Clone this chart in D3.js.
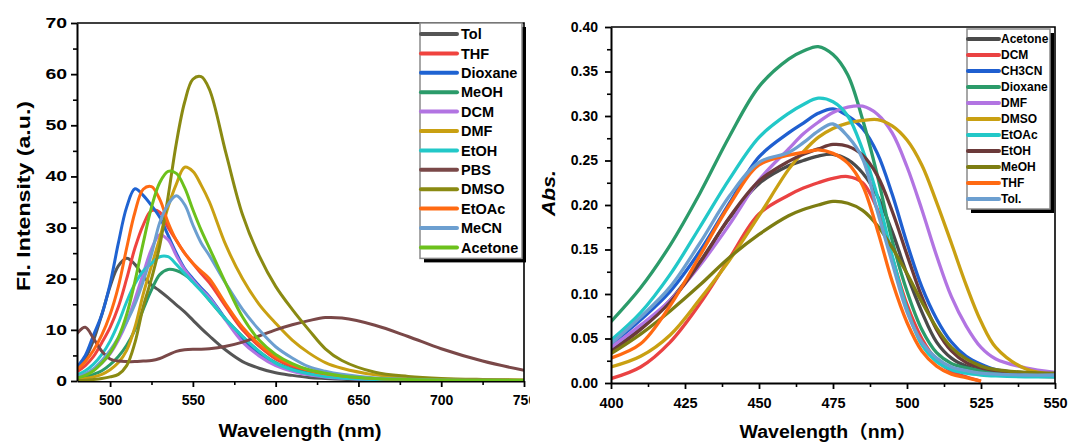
<!DOCTYPE html>
<html>
<head>
<meta charset="utf-8">
<script src="https://cdn.jsdelivr.net/npm/d3@7"></script>
<style>
  body { margin: 0; background: #fff; }
  svg { display: block; }
  text { font-family: Arial, "Liberation Sans", "Noto Sans CJK SC", sans-serif; font-weight: bold; fill: #000; }
</style>
</head>
<body>
<svg id="chart" width="1069" height="443"></svg>
<script>
// ---------- Fluorescence emission spectra (left panel) ----------
const flWavelength = [480,485,490,495,500,505,510,515,520,525,530,535,540,545,550,555,560,570,580,590,600,610,620,630,640,660,680,700,725,750];
const flTol     = [2.5,4.5,8,13,18.5,22.5,24,22.8,20.5,18.8,17.6,16.3,14.9,13.5,11.9,10.3,8.8,6.0,3.8,2.5,1.6,1.1,0.7,0.5,0.35,0.2,0.15,0.1,0.1,0.1];
const flTHF     = [1.8,3,4.8,7.5,10.5,14.5,20,26,30.5,33.3,33,30,27.5,25,23,21,19.2,14.5,10,6.8,4.3,2.8,1.8,1.2,0.8,0.4,0.25,0.15,0.1,0.1];
const flDioxane = [2.7,5,9,13,19,27,34,37.6,36.3,34.3,32,28.5,25,22,20,18.2,16.5,12,8,5.2,3.3,2.1,1.3,0.8,0.6,0.3,0.2,0.15,0.1,0.1];
const flMeOH    = [0.5,0.8,1.3,2,3.2,4.8,7,10,14,17.8,20.8,21.8,21.6,20.8,19.5,17.8,15.8,12,8.7,5.8,3.6,2.3,1.5,1,0.7,0.35,0.2,0.15,0.1,0.1];
const flDCM     = [0.8,1.3,2.2,3.5,5.3,8,11.5,16,21,25.8,28.6,27.6,24.5,21.8,19.7,17.9,16.3,11.8,7.6,4.9,3.0,1.9,1.2,0.8,0.55,0.3,0.2,0.1,0.1,0.1];
const flDMF     = [0.3,0.5,0.8,1.3,2.2,3.6,6,10.5,17,22.5,28,34,38.5,41.8,41,38.3,35,26.5,20,15,11.3,8,5.5,3.6,2.5,1.2,0.6,0.35,0.2,0.15];
const flEtOH    = [1.2,2,3.3,5.2,7.8,11.3,15.5,19,21.5,23,24.3,24.3,22.8,21,19.3,17.6,15.8,12,8.7,5.8,3.5,2.2,1.4,0.9,0.6,0.3,0.2,0.1,0.1,0.1];
const flPBS     = [9.3,10.5,8.3,5.8,4.3,3.9,3.8,3.8,3.9,4.0,4.4,5.1,5.8,6.1,6.2,6.2,6.3,6.8,7.6,8.8,10,11,11.8,12.4,12.3,10.9,8.7,6.3,3.9,2.1];
const flDMSO    = [0.1,0.15,0.3,0.5,0.8,1.3,3,7.5,14.5,20,26.5,36,46.5,54.5,59,59.5,57,44.5,32.5,24.5,18.5,14,10,6.3,4,1.7,0.9,0.5,0.3,0.2];
const flEtOAc   = [2.2,3.8,6,9,13,18.5,26,33,37.5,38,35.5,31,27.5,25,23,21.5,20,15,10.5,7.2,4.7,3.2,2.1,1.4,1,0.5,0.3,0.2,0.15,0.1];
const flMeCN    = [0.8,1.4,2.4,4,6,8.5,11.5,15,19.5,24.8,31,34.5,36.2,34.5,30.5,27,24.5,19,14,10,6.7,4.5,2.8,1.9,1.3,0.6,0.35,0.2,0.15,0.1];
const flAcetone = [0.6,1.1,2,3.5,5.5,8.5,13,19.5,27,34,38.8,41,40.6,37.8,33.5,29.5,26,19,12.5,8,5.2,3.4,2.2,1.5,1,0.5,0.3,0.2,0.15,0.1];

const flNames  = ["Tol","THF","Dioxane","MeOH","DCM","DMF","EtOH","PBS","DMSO","EtOAc","MeCN","Acetone"];
const flColors = ["#555555","#f0433e","#1f63d2","#2b9b6a","#b274e2","#c9a012","#22c8c8","#7a4848","#8a8a12","#ff6a12","#6c9fd0","#6cc11c"];
const flValues = [flTol,flTHF,flDioxane,flMeOH,flDCM,flDMF,flEtOH,flPBS,flDMSO,flEtOAc,flMeCN,flAcetone];
const flXTicks = [500,550,600,650,700,750];
const flYTicks = [0,10,20,30,40,50,60,70];

// ---------- UV-vis absorption spectra (right panel) ----------
const absWavelength = [400,410,420,430,440,450,460,465,470,475,480,485,490,495,500,505,510,515,520,525,530,540,550];
const absAcetone = [0.037,0.062,0.093,0.136,0.185,0.224,0.244,0.250,0.255,0.257,0.251,0.236,0.210,0.170,0.122,0.080,0.046,0.028,0.019,0.014,0.011,0.008,0.007];
const absDCM     = [0.005,0.018,0.046,0.089,0.140,0.190,0.211,0.219,0.225,0.230,0.232,0.225,0.195,0.141,0.088,0.050,0.026,0.013,0.007,0.002,null,null,null];
const absCH3CN   = [0.043,0.071,0.103,0.148,0.202,0.254,0.281,0.292,0.303,0.308,0.300,0.286,0.258,0.212,0.157,0.108,0.072,0.046,0.030,0.021,0.015,0.011,0.009];
const absDioxane = [0.069,0.107,0.155,0.213,0.277,0.333,0.364,0.373,0.378,0.369,0.346,0.296,0.233,0.160,0.103,0.060,0.034,0.022,0.017,0.014,0.013,0.011,0.010];
const absDMF     = [0.040,0.065,0.093,0.132,0.178,0.228,0.263,0.280,0.293,0.304,0.310,0.311,0.302,0.281,0.243,0.195,0.143,0.097,0.064,0.040,0.027,0.017,0.012];
const absDMSO    = [0.018,0.030,0.054,0.094,0.138,0.188,0.240,0.260,0.276,0.286,0.292,0.295,0.296,0.289,0.273,0.245,0.203,0.157,0.110,0.069,0.040,0.016,0.010];
const absEtOAc   = [0.048,0.079,0.122,0.175,0.229,0.276,0.303,0.313,0.320,0.316,0.300,0.262,0.210,0.143,0.083,0.043,0.024,0.015,0.011,0.009,0.008,0.007,0.007];
const absEtOH    = [0.035,0.060,0.091,0.135,0.186,0.227,0.249,0.257,0.263,0.268,0.266,0.256,0.233,0.193,0.144,0.097,0.060,0.036,0.023,0.017,0.014,0.011,0.010];
const absMeOH    = [0.033,0.055,0.081,0.110,0.141,0.167,0.188,0.195,0.200,0.204,0.202,0.194,0.177,0.152,0.123,0.091,0.062,0.040,0.027,0.019,0.015,0.012,0.011];
const absTHF     = [0.028,0.044,0.087,0.143,0.200,0.245,0.256,0.259,0.262,0.258,0.247,0.222,0.172,0.114,0.068,0.036,0.019,0.010,0.006,0.002,null,null,null];
const absTol     = [0.044,0.074,0.108,0.157,0.210,0.248,0.259,0.270,0.283,0.291,0.277,0.252,0.193,0.135,0.080,0.046,0.028,0.018,0.014,0.011,0.010,0.009,0.009];

const absNames  = ["Acetone","DCM","CH3CN","Dioxane","DMF","DMSO","EtOAc","EtOH","MeOH","THF","Tol."];
const absColors = ["#4a4a4a","#ea4242","#1f5fd0","#2b9b6a","#b274e2","#c9a012","#22c8c8","#6b3a3a","#7d7d12","#ff6a12","#6c9fd0"];
const absValues = [absAcetone,absDCM,absCH3CN,absDioxane,absDMF,absDMSO,absEtOAc,absEtOH,absMeOH,absTHF,absTol];
const absXTicks = [400,425,450,475,500,525,550];
const absYTicks = [0,0.05,0.10,0.15,0.20,0.25,0.30,0.35,0.40];

const svg = d3.select("#chart");
const defs = svg.append("defs");

function drawPanel(cfg) {
  const x = d3.scaleLinear().domain(cfg.xDomain).range([cfg.left, cfg.right]);
  const y = d3.scaleLinear().domain(cfg.yDomain).range([cfg.bottom, cfg.top]);
  const g = svg.append("g");

  defs.append("clipPath").attr("id", cfg.id + "-plot")
    .append("rect").attr("x", cfg.left).attr("y", cfg.top)
    .attr("width", cfg.right - cfg.left).attr("height", cfg.bottom - cfg.top);

  // spectra
  const line = d3.line()
    .defined(d => d[1] != null)
    .x(d => x(d[0])).y(d => y(d[1]))
    .curve(d3.curveCatmullRom.alpha(0.5));
  const curves = g.append("g").attr("clip-path", `url(#${cfg.id}-plot)`);
  cfg.values.forEach((vals, i) => {
    curves.append("path")
      .datum(cfg.xs.map((w, j) => [w, vals[j]]))
      .attr("d", line)
      .attr("fill", "none")
      .attr("stroke", cfg.colors[i])
      .attr("stroke-width", cfg.lineWidth)
      .attr("stroke-linejoin", "round");
  });

  // frame: top and right edges
  g.append("path")
    .attr("d", `M${cfg.left},${cfg.top}H${cfg.right}V${cfg.bottom}`)
    .attr("fill", "none").attr("stroke", "#000").attr("stroke-width", 1.6);

  // minor ticks
  const xMinor = g.append("g").attr("transform", `translate(0,${cfg.bottom})`)
    .call(d3.axisBottom(x).tickValues(cfg.xMinor).tickSize(4).tickFormat(""));
  const yMinor = g.append("g").attr("transform", `translate(${cfg.left},0)`)
    .call(d3.axisLeft(y).tickValues(cfg.yMinor).tickSize(4).tickFormat(""));
  [xMinor, yMinor].forEach(a => {
    a.select(".domain").remove();
    a.selectAll("line").attr("stroke-width", 1.6);
  });

  // major axes
  const xAxis = g.append("g").attr("transform", `translate(0,${cfg.bottom})`)
    .call(d3.axisBottom(x).tickValues(cfg.xTicks).tickSize(6).tickSizeOuter(0)
      .tickPadding(cfg.xPad).tickFormat(d3.format("d")));
  const yAxis = g.append("g").attr("transform", `translate(${cfg.left},0)`)
    .call(d3.axisLeft(y).tickValues(cfg.yTicks).tickSize(6).tickSizeOuter(0)
      .tickPadding(cfg.yPad).tickFormat(cfg.yFormat));
  [xAxis, yAxis].forEach(a => {
    a.select(".domain").attr("stroke-width", 2);
    a.selectAll("line").attr("stroke-width", 1.8);
    a.selectAll("text").attr("font-family", null).attr("fill", "#000");
  });
  xAxis.selectAll("text").attr("font-size", cfg.xFont);
  yAxis.selectAll("text").attr("font-size", cfg.yFont);
  if (cfg.yDigitWidth) {
    yAxis.selectAll("text").each(function () {
      const t = d3.select(this);
      t.attr("textLength", t.text().length * cfg.yDigitWidth).attr("lengthAdjust", "spacingAndGlyphs");
    });
  }
  if (cfg.clipRight) {
    defs.append("clipPath").attr("id", cfg.id + "-xlab")
      .append("rect").attr("x", 0).attr("y", 0).attr("width", cfg.clipRight).attr("height", 443);
    xAxis.attr("clip-path", `url(#${cfg.id}-xlab)`);
  }

  // legend
  const L = cfg.legend;
  const nL = cfg.names.length;
  const boxH = L.pad * 2 + (nL - 1) * L.step;
  g.append("rect").attr("x", L.x + 4).attr("y", L.y + 4).attr("width", L.w).attr("height", boxH).attr("fill", "#000");
  g.append("rect").attr("x", L.x).attr("y", L.y).attr("width", L.w).attr("height", boxH)
    .attr("fill", "#fff").attr("stroke", "#8a8a8a").attr("stroke-width", 1.5);
  cfg.names.forEach((name, i) => {
    const cy = L.y + L.pad + i * L.step;
    g.append("line").attr("x1", L.x + 1).attr("x2", L.x + L.lineLen).attr("y1", cy).attr("y2", cy)
      .attr("stroke", cfg.colors[i]).attr("stroke-width", 4).attr("stroke-linecap", "round");
    g.append("text").attr("x", L.x + L.lineLen + L.gap).attr("y", cy).attr("dy", "0.36em")
      .attr("font-size", L.font).text(name);
  });
  return g;
}

drawPanel({
  id: "fl", xs: flWavelength, values: flValues, names: flNames, colors: flColors,
  xDomain: [480, 750], yDomain: [0, 70],
  left: 77, right: 524, top: 23, bottom: 381, lineWidth: 3,
  xTicks: flXTicks, yTicks: flYTicks,
  xMinor: [525, 575, 625, 675, 725], yMinor: [5, 15, 25, 35, 45, 55, 65],
  xPad: 8, yPad: 4, xFont: 14, yFont: 14, yDigitWidth: 10.8,
  yFormat: d3.format("d"), clipRight: 530,
  legend: { x: 420, y: 23, w: 102, pad: 11, step: 19.4, lineLen: 37, gap: 4, font: 14.5 }
});

drawPanel({
  id: "abs", xs: absWavelength, values: absValues, names: absNames, colors: absColors,
  xDomain: [400, 550], yDomain: [0, 0.4],
  left: 611, right: 1055, top: 27, bottom: 383, lineWidth: 3.3,
  xTicks: absXTicks, yTicks: absYTicks,
  xMinor: [412.5, 437.5, 462.5, 487.5, 512.5, 537.5],
  yMinor: [0.025, 0.075, 0.125, 0.175, 0.225, 0.275, 0.325, 0.375],
  xPad: 9, yPad: 7, xFont: 14.5, yFont: 14,
  yFormat: d3.format(".2f"),
  legend: { x: 967, y: 29, w: 83, pad: 10, step: 16, lineLen: 32, gap: 2, font: 12 }
});

// axis titles
svg.append("text")
  .attr("transform", "translate(24,196) rotate(-90)")
  .attr("text-anchor", "middle").attr("dy", "0.35em")
  .attr("font-size", 18).attr("textLength", 190).attr("lengthAdjust", "spacingAndGlyphs")
  .text("Fl. Intensity (a.u.)");
svg.append("text")
  .attr("x", 300).attr("y", 437).attr("text-anchor", "middle")
  .attr("font-size", 18).attr("textLength", 163).attr("lengthAdjust", "spacingAndGlyphs")
  .text("Wavelength (nm)");
svg.append("text")
  .attr("transform", "translate(549,193) rotate(-90)")
  .attr("text-anchor", "middle").attr("dy", "0.35em")
  .attr("font-size", 18).attr("font-style", "italic")
  .attr("textLength", 46).attr("lengthAdjust", "spacingAndGlyphs")
  .text("Abs.");
svg.append("text")
  .attr("x", 828).attr("y", 438).attr("text-anchor", "middle")
  .attr("font-size", 18).attr("textLength", 177).attr("lengthAdjust", "spacingAndGlyphs")
  .text("Wavelength（nm）");
</script>
</body>
</html>
